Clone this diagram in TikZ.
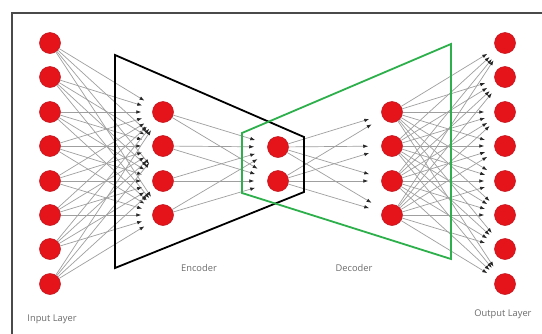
\documentclass[tikz,border=0pt]{standalone}
\usepackage{fontspec}
\setmainfont{Open Sans}
\usetikzlibrary{arrows.meta}
\definecolor{nred}{HTML}{E5141B}
\definecolor{nredd}{HTML}{C0101A}
\definecolor{txt}{HTML}{6A6A6A}
\definecolor{frame}{HTML}{4A4A4A}
\definecolor{gline}{HTML}{2DB04B}
\begin{document}
\begin{tikzpicture}[x=1pt,y=-1pt,
  neuron/.style={circle,fill=nred,draw=nredd,line width=0.5pt,minimum size=21pt,inner sep=0pt},
  conn/.style={draw=gray!75,line width=0.7pt,-{Latex[length=5pt,width=3.6pt,color=gray!30!black]}},
  lbl/.style={text=txt,font=\fontsize{9.3}{11}\selectfont,inner sep=0pt}]
\useasboundingbox (0,0) rectangle (542,333);
\fill[white] (0,0) rectangle (542,333);
\draw[frame,line width=1.6pt] (12,340) -- (12,13) -- (550,13);
% nodes
\foreach \i/\y in {1/43,2/77,3/112,4/146,5/181,6/215,7/249,8/284}{
  \node[neuron] (i\i) at (50,\y) {};
  \node[neuron] (o\i) at (505,\y) {};
}
\foreach \i/\y in {1/112,2/146,3/181,4/215}{
  \node[neuron] (e\i) at (163,\y) {};
  \node[neuron] (d\i) at (392,\y) {};
}
\node[neuron] (b1) at (278,147) {};
\node[neuron] (b2) at (278,181) {};
% connections
\foreach \a in {1,...,8}{\foreach \b in {1,...,4}{
  \draw[conn,shorten >=11pt] (i\a) -- (e\b);
  \draw[conn,shorten >=10pt] (d\b) -- (o\a);
}}
\foreach \a in {1,...,4}{\foreach \b in {1,2}{
  \draw[conn,shorten >=13pt] (e\a) -- (b\b);
  \draw[conn,shorten >=13pt] (b\b) -- (d\a);
}}
% encoder / decoder outlines
\draw[black,line width=1.8pt,line join=miter] (115,55) -- (304,137) -- (304,192) -- (115,268) -- cycle;
\draw[gline,line width=1.8pt,line join=miter] (242,133) -- (451,44) -- (451,259) -- (242,193) -- cycle;
% labels
\node[lbl] (lin) at (52,319) {Input Layer};
\node[lbl] (lenc) at (199,268) {Encoder};
\node[lbl] (ldec) at (354,268) {Decoder};
\node[lbl] (lout) at (503,314) {Output Layer};
\end{tikzpicture}
\end{document}
